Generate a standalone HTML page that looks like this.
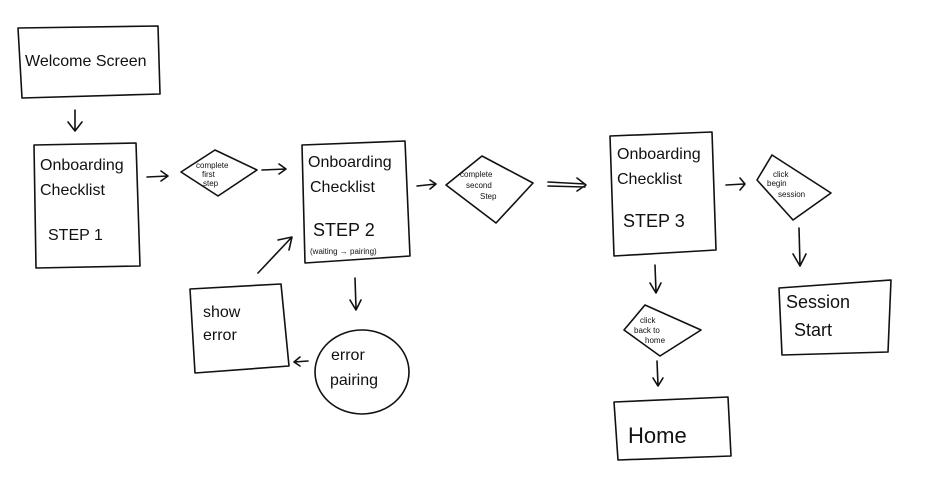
<!DOCTYPE html>
<html><head><meta charset="utf-8"><style>
html,body{margin:0;padding:0;background:#fff;}
svg{display:block;}
text{font-family:"Liberation Sans",sans-serif;fill:#111;}
</style></head><body>
<svg width="926" height="484" viewBox="0 0 926 484" xmlns="http://www.w3.org/2000/svg">
<g fill="none" stroke="#111" stroke-width="1.6" stroke-linecap="round" stroke-linejoin="round">
<path d="M18,28 L158,26 L160,94 L22,98 Z"/>
<path d="M75,110 L75,130 M68,122 L75,131 L82,122"/>
<path d="M34,145 L136,143 L140,266 L36,268 Z"/>
<path d="M147,177 L168,176 M161,171 L168,176 L161,181"/>
<path d="M181,172 L215,150 L257,170 L218,196 Z"/>
<path d="M262,170 L286,169 M279,164 L286,169 L279,174"/>
<path d="M302,145 L405,141 L410,256 L305,263 Z"/>
<path d="M417,186 L436,184 M430,180 L436,184 L430,189"/>
<path d="M446,185 L482,156 L533,183 L496,223 Z"/>
<path d="M548,182 L585,184 M548,186 L585,187 M577,178 L586,185 L577,191"/>
<path d="M610,136 L712,132 L716,250 L614,256 Z"/>
<path d="M726,185 L744,184 M740,178 L745,184 L740,190"/>
<path d="M757,180 L772,155 L831,193 L793,220 Z"/>
<path d="M799,228 L800,265 M793,254 L800,266 L806,254"/>
<path d="M779,288 L891,280 L888,352 L782,355 Z"/>
<path d="M655,265 L656,292 M650,283 L656,293 L661,283"/>
<path d="M624,330 L645,305 L701,330 L660,356 Z"/>
<path d="M657,361 L658,385 M653,378 L658,386 L663,378"/>
<path d="M614,402 L728,397 L731,456 L618,460 Z"/>
<path d="M355,278 L356,308 M350,300 L356,310 L361,300"/>
<ellipse cx="362" cy="372" rx="47" ry="42"/>
<path d="M308,361 L294,362 M300,357 L294,362 L300,366"/>
<path d="M190,289 L281,284 L289,366 L195,373 Z"/>
<path d="M258,273 L291,238 M278,240 L292,237 L289,250"/>
</g>
<g font-size="16">
<text x="25" y="66" font-size="16">Welcome Screen</text>
<text x="40" y="170">Onboarding</text>
<text x="40" y="195">Checklist</text>
<text x="48" y="240">STEP 1</text>
<text x="196" y="168" font-size="8">complete</text>
<text x="202" y="177" font-size="8">first</text>
<text x="203" y="186" font-size="8">step</text>
<text x="308" y="167">Onboarding</text>
<text x="310" y="192">Checklist</text>
<text x="313" y="236" font-size="18">STEP 2</text>
<text x="310" y="254" font-size="8">(waiting → pairing)</text>
<text x="460" y="177" font-size="8">complete</text>
<text x="466" y="188" font-size="8">second</text>
<text x="480" y="199" font-size="8">Step</text>
<text x="617" y="159">Onboarding</text>
<text x="617" y="184">Checklist</text>
<text x="623" y="227" font-size="18">STEP 3</text>
<text x="773" y="177" font-size="8">click</text>
<text x="767" y="186" font-size="8">begin</text>
<text x="778" y="197" font-size="8">session</text>
<text x="786" y="308" font-size="18">Session</text>
<text x="794" y="336" font-size="18">Start</text>
<text x="640" y="323" font-size="8">click</text>
<text x="634" y="333" font-size="8">back to</text>
<text x="645" y="343" font-size="8">home</text>
<text x="628" y="443" font-size="22">Home</text>
<text x="331" y="360">error</text>
<text x="330" y="385">pairing</text>
<text x="203" y="317">show</text>
<text x="203" y="340">error</text>
</g>
</svg>
</body></html>
